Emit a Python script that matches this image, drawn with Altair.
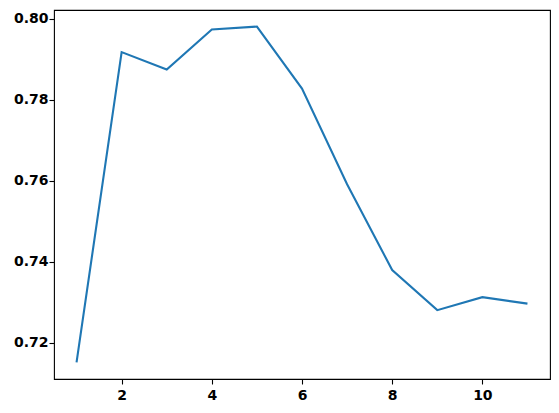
import altair as alt
import pandas as pd

xs = [1, 2, 3, 4, 5, 6, 7, 8, 9, 10, 11]
ys = [0.7151, 0.7917, 0.7874, 0.7973, 0.7980, 0.7827, 0.7591, 0.7379, 0.7280, 0.7312, 0.7296]
x_ticks = [2, 4, 6, 8, 10]
y_ticks = [0.72, 0.74, 0.76, 0.78, 0.80]

df = pd.DataFrame({"x": xs, "y": ys})

axis_common = dict(
    grid=False,
    domain=False,
    ticks=True,
    tickSize=5,
    tickWidth=1.1,
    tickColor="black",
    labelFont="DejaVu Sans",
    labelFontSize=14,
    labelFontWeight="bold",
    labelColor="black",
    title=None,
)

chart = alt.Chart(df).mark_line(color="#1f77b4", strokeWidth=2.1).encode(
    x=alt.X("x:Q", scale=alt.Scale(domain=[0.5, 11.5], nice=False, zero=False),
            axis=alt.Axis(values=x_ticks, format="d", labelPadding=4, **axis_common)),
    y=alt.Y("y:Q", scale=alt.Scale(domain=[0.7110, 0.8021], nice=False, zero=False),
            axis=alt.Axis(values=y_ticks, format=".2f", labelPadding=1, **axis_common)),
).properties(
    width=496,
    height=369,
    autosize=alt.AutoSizeParams(type="none"),
    padding={"left": 46, "top": 2, "right": 1, "bottom": 26},
    background="white",
).configure_view(
    stroke="black",
    strokeWidth=1.1,
)

chart.save("out.html", embed_options={"renderer": "svg", "actions": False})
